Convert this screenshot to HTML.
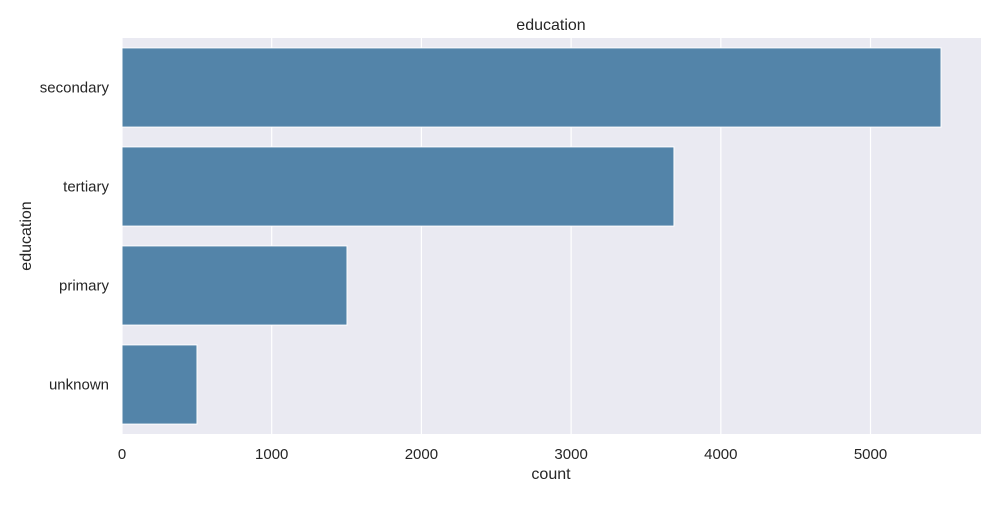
<!DOCTYPE html>
<html><head><meta charset="utf-8"><style>
body{margin:0;background:#fff;font-family:"Liberation Sans","DejaVu Sans",sans-serif;}
svg text{font-family:"Liberation Sans","DejaVu Sans",sans-serif;fill:#262626;}
</style></head><body>
<svg id="chart" width="1000" height="500">
<rect x="122" y="38" width="859" height="396" fill="#eaeaf2"/>
<g id="grid"></g><g id="bars"></g><g id="yticks"></g><g id="xticks"></g>
<text x="551" y="30" text-anchor="middle" font-size="16">education</text>
<text x="551" y="479" text-anchor="middle" font-size="16">count</text>
<text transform="translate(31,236) rotate(-90)" text-anchor="middle" font-size="16">education</text>
</svg>
<script>
const categories=["secondary","tertiary","primary","unknown"];
const counts=[5471,3687,1503,501];
const xTicks=[0,1000,2000,3000,4000,5000];
const X0=122,X1=981,XMAX=5738,Y0=38,Y1=434;
const ns="http://www.w3.org/2000/svg";
function xs(v){return X0+v/XMAX*(X1-X0);}
const band=(Y1-Y0)/categories.length;
function mk(t,a,p){const e=document.createElementNS(ns,t);for(const k in a)e.setAttribute(k,a[k]);p.appendChild(e);return e;}
const grid=document.getElementById('grid'),xt=document.getElementById('xticks');
xTicks.forEach(t=>{
 const l=mk('line',{x1:xs(t),x2:xs(t),y1:Y0,y2:Y1,stroke:'#fff','stroke-width':1.2},grid);
 
 
 const tx=mk('text',{x:xs(t),y:459,'text-anchor':'middle','font-size':15},xt);
 tx.textContent=t;
 
 
});
const bars=document.getElementById('bars'),yt=document.getElementById('yticks');
categories.forEach((c,i)=>{
 const yc=Y0+band*(i+0.5),h=band*0.8;
 const r=mk('rect',{x:X0,y:yc-h/2,width:xs(counts[i])-X0,height:h,fill:'#5384a9',stroke:'#fff','stroke-width':1},bars);
 
 
 const tx=mk('text',{x:109,y:yc+5,'text-anchor':'end','font-size':15},yt);
 tx.textContent=c;
 
 
});
</script>
</body></html>
